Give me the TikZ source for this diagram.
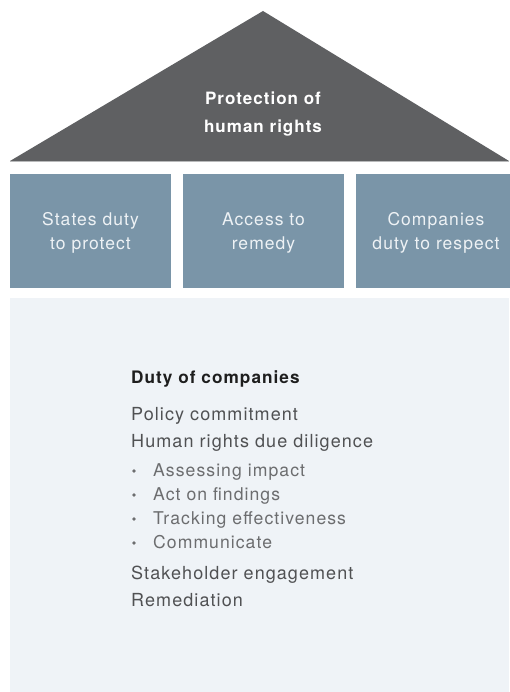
\documentclass[tikz,border=0pt]{standalone}
\usepackage{fontspec}
\setmainfont{TeX Gyre Heros}[LetterSpace=6]
\definecolor{roofgray}{HTML}{5F6062}
\definecolor{pillar}{HTML}{7A95A8}
\definecolor{panel}{HTML}{EFF3F7}
\definecolor{pillartext}{HTML}{EEF2F5}
\definecolor{headtext}{HTML}{1E1E1E}
\definecolor{itemtext}{HTML}{505153}
\definecolor{subtext}{HTML}{6C6D6F}
\definecolor{roofedge}{HTML}{B8B9BA}
\tikzset{
  x=1pt, y=-1pt,
  pillarbox/.style={fill=pillar, draw=none, minimum width=161pt, minimum height=114pt, inner sep=0pt, anchor=north west},
  pillarlabel/.style={text=pillartext, font=\fontsize{17.5}{24}\selectfont, align=center},
  rooflabel/.style={text=white, font=\bfseries\fontsize{17}{28}\selectfont, align=center},
  headline/.style={anchor=base west, text=headtext, font=\bfseries\fontsize{17.2}{20}\selectfont, inner sep=0pt},
  itemline/.style={anchor=base west, text=itemtext, font=\fontsize{18}{20}\selectfont, inner sep=0pt},
  subline/.style={anchor=base west, text=subtext, font=\fontsize{17.6}{20}\selectfont, inner sep=0pt},
  bulletdot/.style={circle, fill=subtext, inner sep=0pt, minimum size=3.8pt}
}
\begin{document}
\begin{tikzpicture}
\useasboundingbox (0,0) rectangle (509,692);
\fill[white] (0,0) rectangle (509,692);
% roof
\fill[roofgray] (10,161) -- (263,11) -- (509,161) -- cycle;
\draw[roofedge, line width=1pt] (10,161.5) -- (509,161.5);
\node[rooflabel] (roof) at (263,114) {Protection of\\human rights};
% pillars
\node[pillarbox] (p1) at (10,174) {};
\node[pillarbox] (p2) at (183,174) {};
\node[pillarbox] (p3) at (356,174) {};
\node[pillarlabel] (t1) at (90.5,233) {States duty\\to protect};
\node[pillarlabel] (t2) at (263.5,233) {Access to\\remedy};
\node[pillarlabel] (t3) at (436,233) {Companies\\duty to respect};
% panel
\fill[panel] (10,298) rectangle (509,692);
\node[headline] (h) at (131,383) {Duty of companies};
\node[itemline] (i1) at (131,420) {Policy commitment};
\node[itemline] (i2) at (131,447) {Human rights due diligence};
\node[subline] (s1) at (153,476) {Assessing impact};
\node[subline] (s2) at (153,500) {Act on findings};
\node[subline] (s3) at (153,524) {Tracking effectiveness};
\node[subline] (s4) at (153,548) {Communicate};
\node[bulletdot] (b1) at (134,471) {};
\node[bulletdot] (b2) at (134,495) {};
\node[bulletdot] (b3) at (134,519) {};
\node[bulletdot] (b4) at (134,543) {};
\node[itemline] (i3) at (131,579) {Stakeholder engagement};
\node[itemline] (i4) at (131,606) {Remediation};
\end{tikzpicture}
\end{document}
